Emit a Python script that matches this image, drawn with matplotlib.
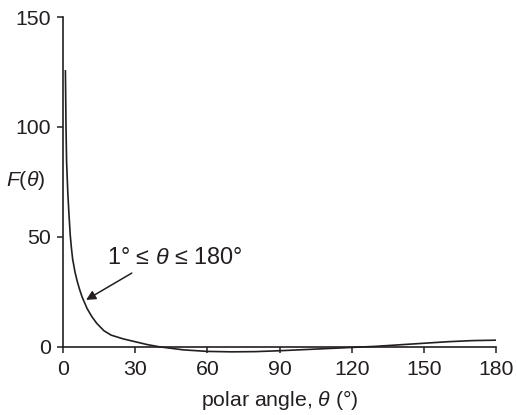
import matplotlib
matplotlib.use("Agg")
import matplotlib.pyplot as plt

plt.rcParams['font.family'] = ['Liberation Sans', 'DejaVu Sans']
plt.rcParams['mathtext.fontset'] = 'custom'
plt.rcParams['mathtext.it'] = 'Liberation Sans:italic'
plt.rcParams['mathtext.rm'] = 'Liberation Sans'

theta = [1, 1.25, 1.5, 2, 2.5, 3, 3.5, 4, 5, 6, 7, 8, 10, 12, 14, 17, 20,
         25, 30, 35, 40, 50, 60, 70, 80, 90, 100, 110, 120, 130, 140, 150,
         160, 170, 180]
F = [125.5, 100, 84, 70, 60, 51, 45, 40, 34, 29.5, 25.8, 22.6, 17.5, 13.8,
     10.8, 7.4, 5.4, 3.7, 2.4, 1.1, 0.1, -1.3, -2.0, -2.2, -2.1, -1.7, -1.2,
     -0.7, -0.2, 0.3, 1.0, 1.7, 2.4, 2.9, 3.1]
xticks = [0, 30, 60, 90, 120, 150, 180]
yticks = [0, 50, 100, 150]

ink = '#231f20'
fs = 15.3

fig = plt.figure(figsize=(5.17, 4.15), dpi=100)
ax = fig.add_axes([63/517, 1 - 360.2/415, 433/517, (360.2 - 17)/415])
ax.plot(theta, F, color=ink, lw=1.2)
ax.set_xlim(0, 180)
ax.set_ylim(-6, 150)
ax.set_xticks(xticks)
ax.set_yticks(yticks)
for s in ['top', 'right']:
    ax.spines[s].set_visible(False)
ax.spines['bottom'].set_position(('data', 0))
for s in ['left', 'bottom']:
    ax.spines[s].set_linewidth(1.2)
    ax.spines[s].set_color(ink)
ax.spines['left'].set_bounds(0, 150)
ax.tick_params(axis='both', direction='out', length=4.5, width=1.1,
               colors=ink, labelsize=fs)
ax.tick_params(axis='x', pad=5)
ax.tick_params(axis='y', pad=4)

ax.set_xlabel(r'polar angle, $\theta$ (°)', fontsize=fs, color=ink)
ax.xaxis.set_label_coords(0.5, -0.082)
fig.text(26/517, 1 - 180/415, r'$F(\theta)$', fontsize=fs, color=ink,
         ha='center', va='center')

ax.text(46.5, 40.9, r'1° ≤ $\theta$ ≤ 180°', fontsize=16.8, color=ink,
        ha='center', va='center')
ax.annotate('', xy=(9.6, 21.4), xytext=(28.6, 33.6),
            arrowprops=dict(arrowstyle='-|>', color=ink, lw=1.1,
                            mutation_scale=14, shrinkA=0, shrinkB=0))

fig.savefig('out.png', dpi=100)
